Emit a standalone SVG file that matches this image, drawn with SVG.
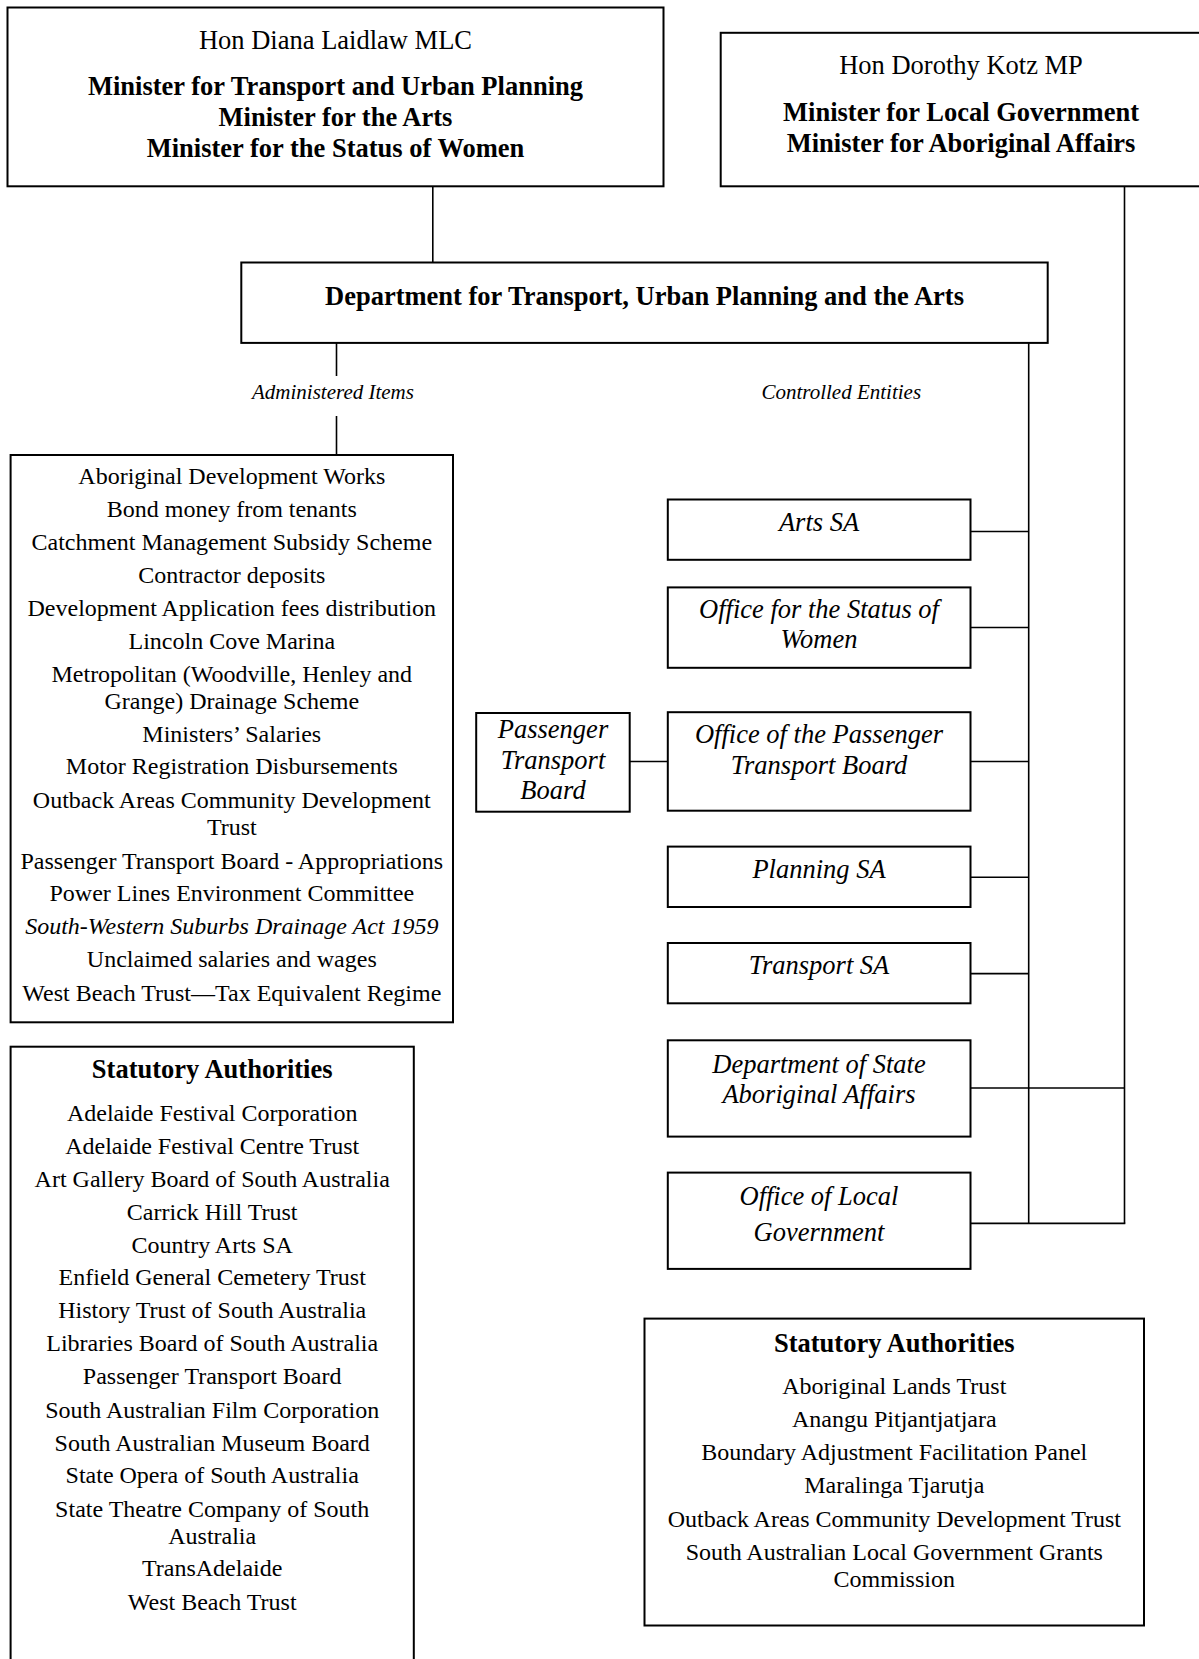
<svg xmlns="http://www.w3.org/2000/svg" width="1199" height="1659" viewBox="0 0 1199 1659">
<style>
.box{fill:#fff;stroke:#000;stroke-width:2}
.conn line{stroke:#000;stroke-width:1.6}
text{font-family:"Liberation Serif","Times New Roman",serif;text-anchor:middle;fill:#000}
.h{font-size:26.5px}
.b{font-weight:bold}
.i{font-style:italic}
.it{font-size:24px}
.lb{font-size:21px;font-style:italic}
</style>
<rect width="1199" height="1659" fill="#fff"/>
<g id="connectors" class="conn">
<line x1="432.8" y1="186.3" x2="432.8" y2="262.5"/>
<line x1="336.5" y1="342.9" x2="336.5" y2="376"/>
<line x1="336.5" y1="416" x2="336.5" y2="455"/>
<line x1="1028.7" y1="342.9" x2="1028.7" y2="1223.4"/>
<line x1="1124.5" y1="186.3" x2="1124.5" y2="1223.4"/>
<line x1="970.5" y1="1223.4" x2="1125.3" y2="1223.4"/>
<line x1="970.5" y1="1088" x2="1124.5" y2="1088"/>
<line x1="970.5" y1="531.5" x2="1028.7" y2="531.5"/>
<line x1="970.5" y1="627.5" x2="1028.7" y2="627.5"/>
<line x1="970.5" y1="761.5" x2="1028.7" y2="761.5"/>
<line x1="970.5" y1="877.3" x2="1028.7" y2="877.3"/>
<line x1="970.5" y1="973.6" x2="1028.7" y2="973.6"/>
<line x1="629.7" y1="761.5" x2="667.8" y2="761.5"/>
</g>
<g id="laidlaw">
<rect class="box" x="7.5" y="7.5" width="656" height="178.8"/>
<text class="h" x="335.5" y="48.7">Hon Diana Laidlaw MLC</text>
<text class="h b" x="335.5" y="95.3">Minister for Transport and Urban Planning</text>
<text class="h b" x="335.5" y="126">Minister for the Arts</text>
<text class="h b" x="335.5" y="156.7">Minister for the Status of Women</text>
</g>
<g id="kotz">
<rect class="box" x="720.7" y="32.8" width="490" height="153.5"/>
<text class="h" x="961" y="74">Hon Dorothy Kotz MP</text>
<text class="h b" x="961" y="120.7">Minister for Local Government</text>
<text class="h b" x="961" y="151.5">Minister for Aboriginal Affairs</text>
</g>
<g id="department">
<rect class="box" x="241.3" y="262.5" width="806.4" height="80.4"/>
<text class="h b" x="644.5" y="305">Department for Transport, Urban Planning and the Arts</text>
</g>
<g id="label-administered"><text class="lb" x="333" y="398.5">Administered Items</text></g>
<g id="label-controlled"><text class="lb" x="841.3" y="398.5">Controlled Entities</text></g>
<g id="administered-items">
<rect class="box" x="10.6" y="455" width="442.4" height="567.3"/>
<text class="it" x="231.8" y="484">Aboriginal Development Works</text>
<text class="it" x="231.8" y="517">Bond money from tenants</text>
<text class="it" x="231.8" y="550">Catchment Management Subsidy Scheme</text>
<text class="it" x="231.8" y="583">Contractor deposits</text>
<text class="it" x="231.8" y="615.5">Development Application fees distribution</text>
<text class="it" x="231.8" y="648.5">Lincoln Cove Marina</text>
<text class="it" x="231.8" y="682">Metropolitan (Woodville, Henley and</text>
<text class="it" x="231.8" y="708.5">Grange) Drainage Scheme</text>
<text class="it" x="231.8" y="741.5">Ministers’ Salaries</text>
<text class="it" x="231.8" y="774">Motor Registration Disbursements</text>
<text class="it" x="231.8" y="808">Outback Areas Community Development</text>
<text class="it" x="231.8" y="834.5">Trust</text>
<text class="it" x="231.8" y="868.5">Passenger Transport Board - Appropriations</text>
<text class="it" x="231.8" y="901">Power Lines Environment Committee</text>
<text class="it i" x="231.8" y="934">South-Western Suburbs Drainage Act 1959</text>
<text class="it" x="231.8" y="967">Unclaimed salaries and wages</text>
<text class="it" x="231.8" y="1000.5">West Beach Trust—Tax Equivalent Regime</text>
</g>
<g id="statutory-left">
<rect class="box" x="10.6" y="1046.7" width="403.2" height="640"/>
<text class="h b" x="212.2" y="1077.5">Statutory Authorities</text>
<text class="it" x="212.2" y="1121.3">Adelaide Festival Corporation</text>
<text class="it" x="212.2" y="1154.1">Adelaide Festival Centre Trust</text>
<text class="it" x="212.2" y="1187">Art Gallery Board of South Australia</text>
<text class="it" x="212.2" y="1219.8">Carrick Hill Trust</text>
<text class="it" x="212.2" y="1252.6">Country Arts SA</text>
<text class="it" x="212.2" y="1285.4">Enfield General Cemetery Trust</text>
<text class="it" x="212.2" y="1318.2">History Trust of South Australia</text>
<text class="it" x="212.2" y="1351">Libraries Board of South Australia</text>
<text class="it" x="212.2" y="1383.8">Passenger Transport Board</text>
<text class="it" x="212.2" y="1417.7">South Australian Film Corporation</text>
<text class="it" x="212.2" y="1450.5">South Australian Museum Board</text>
<text class="it" x="212.2" y="1483.3">State Opera of South Australia</text>
<text class="it" x="212.2" y="1517.1">State Theatre Company of South</text>
<text class="it" x="212.2" y="1543.6">Australia</text>
<text class="it" x="212.2" y="1576.4">TransAdelaide</text>
<text class="it" x="212.2" y="1610.3">West Beach Trust</text>
</g>
<g id="arts-sa">
<rect class="box" x="667.8" y="499.5" width="302.7" height="60.3"/>
<text class="h i" x="819" y="530.5">Arts SA</text>
</g>
<g id="office-status-women">
<rect class="box" x="667.8" y="587.4" width="302.7" height="80.4"/>
<text class="h i" x="819" y="618">Office for the Status of</text>
<text class="h i" x="819" y="648">Women</text>
</g>
<g id="passenger-transport-board">
<rect class="box" x="476.2" y="713" width="153.5" height="98.7"/>
<text class="h i" x="553" y="738">Passenger</text>
<text class="h i" x="553" y="768.5">Transport</text>
<text class="h i" x="553" y="799">Board</text>
</g>
<g id="office-passenger-transport-board">
<rect class="box" x="667.8" y="712.2" width="302.7" height="98.5"/>
<text class="h i" x="819" y="743">Office of the Passenger</text>
<text class="h i" x="819" y="774">Transport Board</text>
</g>
<g id="planning-sa">
<rect class="box" x="667.8" y="846.6" width="302.7" height="60.4"/>
<text class="h i" x="819" y="877.5">Planning SA</text>
</g>
<g id="transport-sa">
<rect class="box" x="667.8" y="943" width="302.7" height="60.3"/>
<text class="h i" x="819" y="974">Transport SA</text>
</g>
<g id="dept-state-aboriginal-affairs">
<rect class="box" x="667.8" y="1040.3" width="302.7" height="96.3"/>
<text class="h i" x="819" y="1072.5">Department of State</text>
<text class="h i" x="819" y="1103">Aboriginal Affairs</text>
</g>
<g id="office-local-government">
<rect class="box" x="667.8" y="1172.6" width="302.7" height="96.3"/>
<text class="h i" x="819" y="1204.5">Office of Local</text>
<text class="h i" x="819" y="1241">Government</text>
</g>
<g id="statutory-right">
<rect class="box" x="644.5" y="1318.6" width="499.5" height="306.9"/>
<text class="h b" x="894.3" y="1352">Statutory Authorities</text>
<text class="it" x="894.3" y="1394.4">Aboriginal Lands Trust</text>
<text class="it" x="894.3" y="1427.2">Anangu Pitjantjatjara</text>
<text class="it" x="894.3" y="1460">Boundary Adjustment Facilitation Panel</text>
<text class="it" x="894.3" y="1492.8">Maralinga Tjarutja</text>
<text class="it" x="894.3" y="1526.7">Outback Areas Community Development Trust</text>
<text class="it" x="894.3" y="1559.5">South Australian Local Government Grants</text>
<text class="it" x="894.3" y="1587">Commission</text>
</g>
</svg>
